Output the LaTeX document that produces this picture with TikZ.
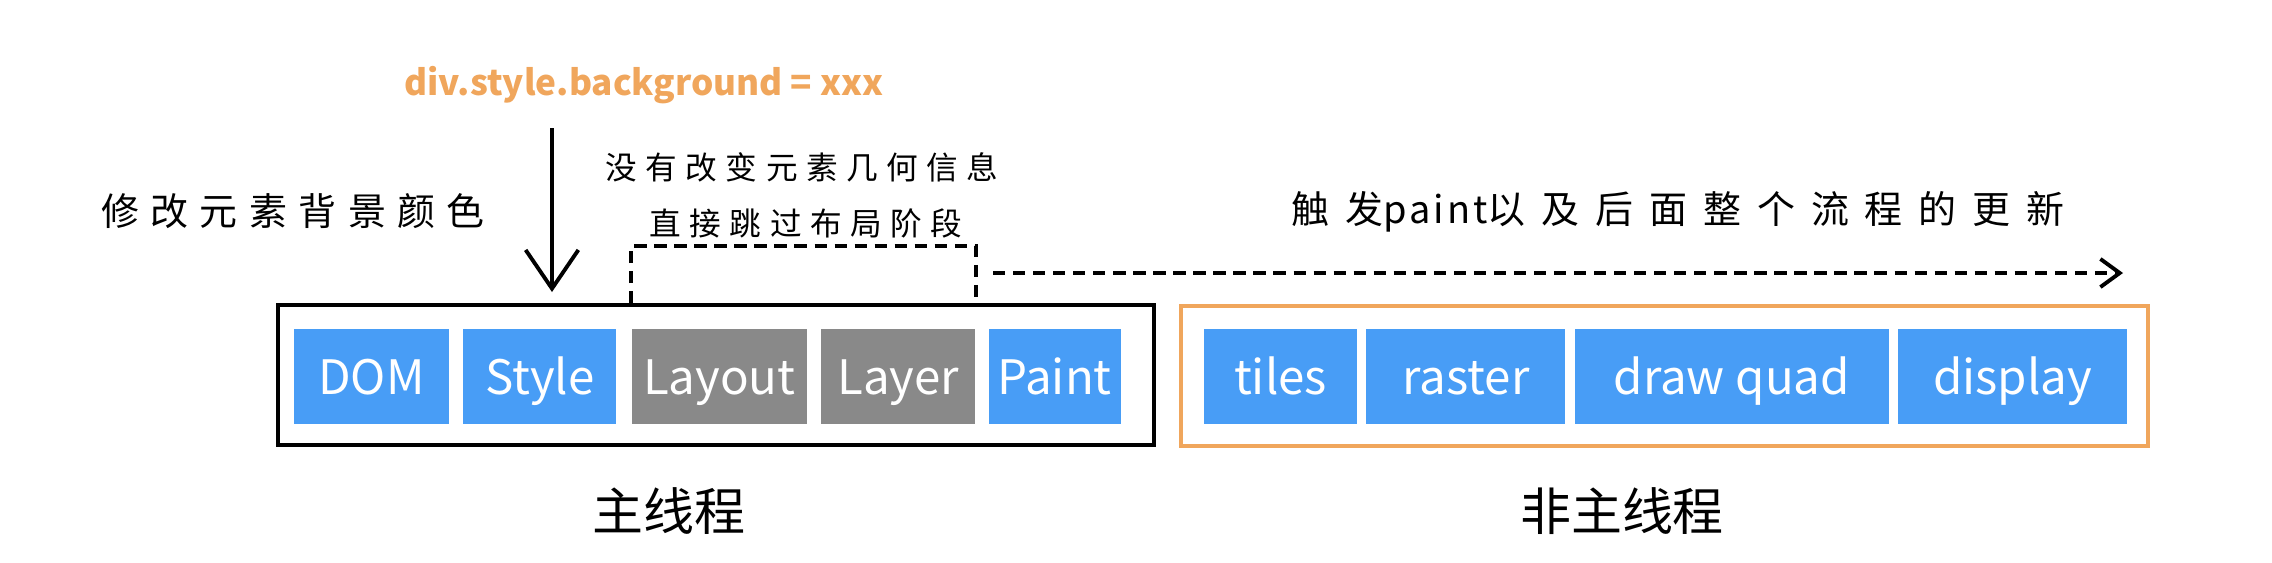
\documentclass[tikz,border=0pt]{standalone}
\usepackage{fontspec}
\setmainfont{Noto Sans CJK SC}
\usetikzlibrary{positioning,arrows.meta}
\definecolor{stageblue}{RGB}{72,157,246}
\definecolor{stagegray}{RGB}{137,137,137}
\definecolor{threadorange}{RGB}{240,166,92}
\tikzset{
  stage/.style={fill=stageblue, text=white, minimum height=0.95cm, inner sep=0pt, text height=12.5pt, text depth=2.5pt, font=\fontsize{13.5}{16}\selectfont},
  skipped/.style={stage, fill=stagegray},
  thread/.style={draw, line width=1.1pt, minimum height=1.4cm, inner sep=0pt},
  note/.style={inner sep=0pt, font=\fontsize{10.8}{13}\selectfont\addfontfeature{LetterSpace=30}},
  smallnote/.style={inner sep=0pt, font=\fontsize{9}{11}\selectfont\addfontfeature{LetterSpace=27}},
  dots/.style={line width=1.1pt, dash pattern=on 3.5pt off 2.2pt},
}
\begin{document}
\begin{tikzpicture}
  \useasboundingbox (0,0) rectangle (22.72,-5.62);
  % main thread
  \node[thread, minimum width=8.76cm] (mainbox) at (7.16,-3.75) {};
  \node[stage, minimum width=1.55cm] (dom) at (3.715,-3.765) {DOM};
  \node[stage, minimum width=1.53cm, right=0.13cm of dom] (style) {Style};
  \node[skipped, minimum width=1.75cm, right=0.14cm of style] (layout) {Layout};
  \node[skipped, minimum width=1.54cm, right=0.13cm of layout] (layer) {Layer};
  \node[stage, minimum width=1.32cm, right=0.12cm of layer] (paint) {Paint};
  \node[font=\fontsize{14.5}{17}\selectfont] (mainlabel) at (6.69,-5.11) {主线程};
  % compositor thread
  \node[thread, draw=threadorange, minimum width=9.67cm] (compbox) at (16.645,-3.76) {};
  \node[stage, minimum width=1.53cm] (tiles) at (12.805,-3.765) {tiles};
  \node[stage, minimum width=1.99cm, right=0.08cm of tiles] (raster) {raster};
  \node[stage, minimum width=3.14cm, right=0.08cm of raster] (drawquad) {draw quad};
  \node[stage, minimum width=2.29cm, right=0.08cm of drawquad] (display) {display};
  \node[font=\fontsize{14.5}{17}\selectfont] (complabel) at (16.22,-5.11) {非主线程};
  % style change
  \node[text=threadorange, font=\fontsize{10}{12}\selectfont\bfseries] (csstext) at (6.44,-0.85) {div.style.background = xxx};
  \node[note] (changenote) at (2.93,-2.11) {修改元素背景颜色};
  \coordinate (cssin) at (5.52,-1.28);
  \coordinate (cssout) at (5.52,-2.92);
  \draw[line width=1.1pt, -{Straight Barb[length=11pt, width=15pt, line width=1.1pt]}] (cssin) -- (cssout);
  % skip layout
  \node[smallnote] (skipnote1) at (8.02,-1.67) {没有改变元素几何信息};
  \node[smallnote] (skipnote2) at (8.06,-2.23) {直接跳过布局阶段};
  \draw[dots] (layout.west |- mainbox.north) -- ++(0,0.57) -| (layer.east |- mainbox.north);
  % paint and the rest
  \node[note, font=\fontsize{10.8}{13}\selectfont\addfontfeature{LetterSpace=42}] (flownote) at (16.78,-2.12) {触发{\addfontfeature{LetterSpace=8}paint}以及后面整个流程的更新};
  \coordinate (flowstart) at (9.93,-2.73);
  \coordinate (flowend) at (21.23,-2.73);
  \draw[dots, -{Straight Barb[length=5.5pt, width=8pt, line width=1.1pt]}] (flowstart) -- (flowend);
\end{tikzpicture}
\end{document}
